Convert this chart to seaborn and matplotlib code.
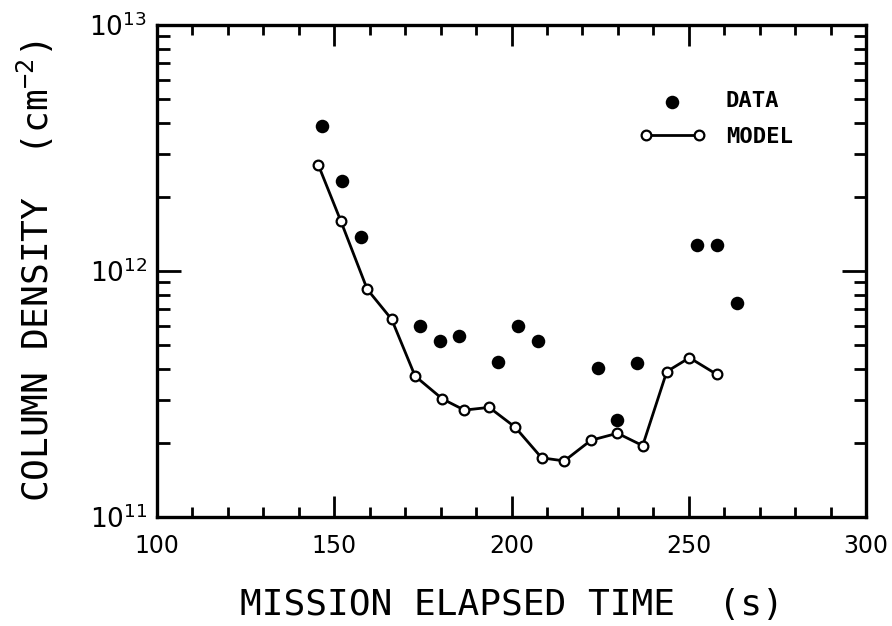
import matplotlib
matplotlib.use('Agg')
import matplotlib.pyplot as plt
import seaborn as sns
from matplotlib.ticker import LogLocator, MultipleLocator, FixedLocator, FixedFormatter, NullFormatter

# ── Data ─────────────────────────────────────────────────────────────────────
data_t = [146.5, 152.1, 157.5, 174.2, 179.8, 185.3, 196.3, 201.9, 207.4,
          224.3, 229.9, 235.5, 252.2, 257.9, 263.5]
data_n = [3.88e12, 2.32e12, 1.37e12, 6.0e11, 5.2e11, 5.46e11, 4.25e11, 6.0e11, 5.2e11,
          4.02e11, 2.49e11, 4.21e11, 1.28e12, 1.28e12, 7.39e11]

model_t = [145.5, 151.9, 159.3, 166.2, 172.8, 180.5, 186.7, 193.7, 201.0,
           208.5, 214.9, 222.4, 229.9, 237.0, 243.8, 250.2, 257.9]
model_n = [2.70e12, 1.59e12, 8.43e11, 6.36e11, 3.74e11, 3.02e11, 2.72e11, 2.79e11, 2.32e11,
           1.74e11, 1.69e11, 2.05e11, 2.19e11, 1.95e11, 3.90e11, 4.44e11, 3.80e11]

x_ticks = [100, 150, 200, 250, 300]
y_ticks = [1e11, 1e12, 1e13]
y_tick_labels = [r'$10^{11}$', r'$10^{12}$', r'$10^{13}$']

# ── Style ────────────────────────────────────────────────────────────────────
sns.set_style('ticks')
plt.rcParams['font.family'] = ['DejaVu Sans']
plt.rcParams['mathtext.default'] = 'regular'
plt.rcParams['text.color'] = 'black'
plt.rcParams['axes.labelcolor'] = 'black'
plt.rcParams['xtick.labelcolor'] = 'black'
plt.rcParams['ytick.labelcolor'] = 'black'
MONO = 'DejaVu Sans Mono'

fig = plt.figure(figsize=(8.92, 6.26), dpi=100)
ax = fig.add_axes([157/892, 1 - 517/626, (866-157)/892, (517-25)/626])

sns.lineplot(x=model_t, y=model_n, ax=ax, color='black', linewidth=2.0,
             marker='o', markersize=7, markerfacecolor='white',
             markeredgecolor='black', markeredgewidth=1.6, label='MODEL',
             sort=False, zorder=3)
sns.scatterplot(x=data_t, y=data_n, ax=ax, color='black', s=95,
                edgecolor='black', linewidth=0, label='DATA', zorder=4)

ax.set_yscale('log')
ax.set_xlim(100, 300)
ax.set_ylim(1e11, 1e13)

# ticks
ax.xaxis.set_major_locator(FixedLocator(x_ticks))
ax.xaxis.set_minor_locator(MultipleLocator(10))
ax.yaxis.set_major_locator(FixedLocator(y_ticks))
ax.yaxis.set_major_formatter(FixedFormatter(y_tick_labels))
ax.yaxis.set_minor_locator(LogLocator(base=10, subs=range(2, 10)))
ax.yaxis.set_minor_formatter(NullFormatter())

ax.tick_params(axis='both', which='both', direction='in', top=True, right=True,
               color='black', width=2.0)
ax.tick_params(axis='x', which='major', length=15, labelsize=17, pad=12)
ax.tick_params(axis='x', which='minor', length=7)
ax.tick_params(axis='y', which='major', length=17, labelsize=19, pad=7)
ax.tick_params(axis='y', which='minor', length=9)

for sp in ax.spines.values():
    sp.set_visible(True)
    sp.set_linewidth(2.4)
    sp.set_color('black')

ax.set_xlabel('MISSION ELAPSED TIME  (s)', fontsize=26, family=MONO, labelpad=22)
ax.set_ylabel(r'COLUMN DENSITY  (cm$^{-2}$)', fontsize=26, family=MONO, labelpad=24)

# legend
handles, labels = ax.get_legend_handles_labels()
order = [labels.index('DATA'), labels.index('MODEL')]
leg = ax.legend([handles[i] for i in order], [labels[i] for i in order],
                loc='upper left', bbox_to_anchor=(0.68, 0.865), frameon=False,
                numpoints=2, scatterpoints=1, handlelength=3.0, handletextpad=0.9,
                labelspacing=0.68, borderpad=0, borderaxespad=0,
                prop={'family': MONO, 'weight': 'bold', 'size': 16})

fig.savefig('out.png', dpi=100, facecolor='white')
